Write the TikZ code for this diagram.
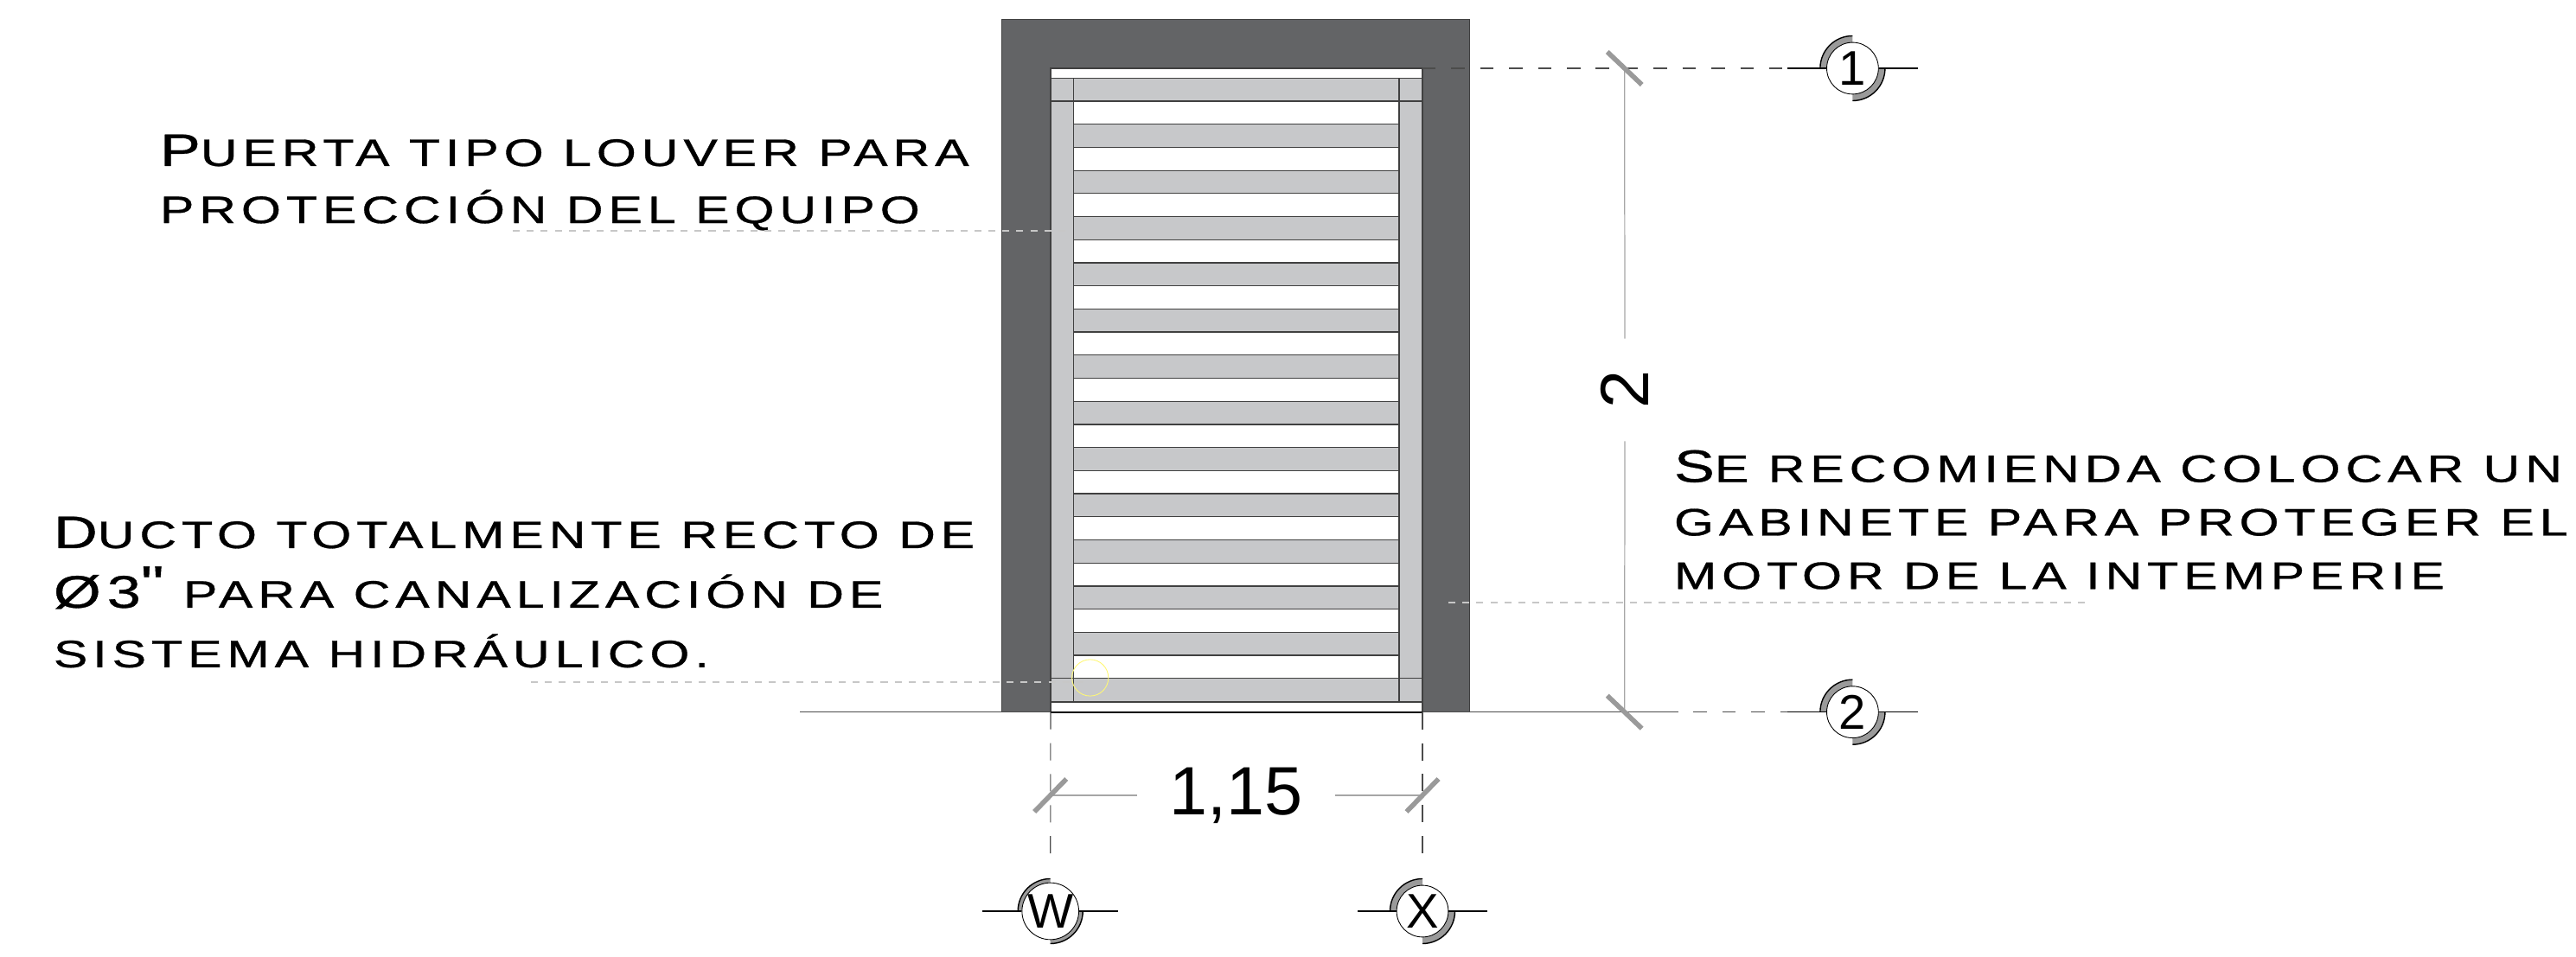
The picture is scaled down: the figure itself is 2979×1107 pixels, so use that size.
\documentclass[tikz,border=0pt]{standalone}
\usepackage{fontspec}
\setmainfont{Liberation Sans}
\newfontfamily\letrero[LetterSpace=10,FakeBold=0.6]{Liberation Sans}
\usetikzlibrary{positioning}
\definecolor{muro}{HTML}{636466}
\definecolor{lama}{HTML}{C7C8CA}
\definecolor{marca}{HTML}{9A9A9A}
\newcommand{\may}[1]{{\fontsize{15pt}{15pt}\selectfont #1}}
\tikzset{
  borde/.style={draw=black!75,line width=0.35pt},
  ejeh/.style={draw=black!70,line width=0.3pt,dash pattern=on 4.4pt off 5.1pt},
  ejev/.style={draw=black!70,line width=0.3pt,dash pattern=on 5.7pt off 4.5pt},
  cota/.style={draw=black!35,line width=0.35pt},
  guia/.style={draw=black!22,line width=0.5pt,dash pattern=on 2.3pt off 2.3pt},
  tic/.style={draw=marca,line width=1.6pt},
  rama/.style={draw=black,line width=0.4pt},
  burbuja/.style={circle,draw=black,line width=0.25pt,fill=white,minimum size=17pt,inner sep=0pt,font=\fontsize{16pt}{16pt}\selectfont},
  medida/.style={inner sep=10.4pt,font=\fontsize{22.5pt}{22.5pt}\selectfont},
  rotulo/.style={align=left,anchor=north west,inner sep=0pt,xscale=#1,transform shape}
}
\begin{document}
\begin{tikzpicture}[x=0.01cm,y=-0.01cm]
  \useasboundingbox (0,0) rectangle (2979,1107);
  %% muro y vano
  \fill[muro] (1158.5,22.7) rectangle (1699.6,823.7);
  \draw[borde] (1158.5,823.7) -- (1158.5,22.7) -- (1699.6,22.7) -- (1699.6,823.7);
  \draw[borde,fill=white] (1215,79) rectangle (1645,823.7);
  %% puerta louver
  \draw[borde,fill=lama] (1215,90.3) rectangle (1241.5,812);
  \draw[borde,fill=lama] (1618,90.3) rectangle (1645,812);
  \foreach \n in {0,...,12}
    \draw[borde,fill=lama] (1241.5,{90.3+\n*53.42}) rectangle (1618,{117+\n*53.42});
  \draw[borde,fill=lama] (1241.5,784.7) rectangle (1618,812);
  \draw[borde] (1215,90.3) rectangle (1645,117);
  \draw[borde] (1215,784.7) rectangle (1645,812);
  \draw[draw=yellow!55!white,line width=0.25pt] (1260.7,784) circle (6pt);
  %% piso
  \coordinate (p1) at (925,823.7);
  \coordinate (p2) at (1215,823.7);
  \coordinate (p3) at (1645,823.7);
  \coordinate (p4) at (1925,823.7);
  \draw[draw=black!70,line width=0.4pt] (p1) -- (p2);
  \draw[draw=black,line width=0.6pt] (p2) -- (p3);
  \draw[draw=black!70,line width=0.4pt] (p3) -- (p4);
  %% ejes
  \foreach \nom/\x/\y/\txt in {1/2142.4/79/1,2/2142.4/823.7/2,W/1214.7/1054/W,X/1645/1054/X} {
    \coordinate (c\nom) at (\x,\y);
    \fill[marca] (c\nom) ++(90:10.67pt) arc[start angle=90,end angle=180,radius=10.67pt] -- ++(0:3pt) arc[start angle=180,end angle=90,radius=7.67pt] -- cycle;
    \fill[marca] (c\nom) ++(270:10.67pt) arc[start angle=270,end angle=360,radius=10.67pt] -- ++(180:3pt) arc[start angle=360,end angle=270,radius=7.67pt] -- cycle;
    \draw[rama] (c\nom) ++(90:10.67pt) arc[start angle=90,end angle=180,radius=10.67pt];
    \draw[rama] (c\nom) ++(270:10.67pt) arc[start angle=270,end angle=360,radius=10.67pt];
    \node[burbuja] (\nom) at (c\nom) {\txt};
    \draw[rama] (\nom.west) -- ++(-45,0);
    \draw[rama] (\nom.east) -- ++(45,0);
  }
  \coordinate (t1) at (1878.7,79);
  \coordinate (t2) at (1878.7,823.7);
  \coordinate (t3) at (1214.7,920);
  \coordinate (t4) at (1645,920);
  \draw[ejeh] (1645,79) -- ([xshift=-12.8pt]1.west);
  \draw[ejeh] (p4) -- ([xshift=-12.8pt]2.west);
  \draw[ejev] (p2) -- ([yshift=8.5pt]W.north);
  \draw[ejev] (p3) -- ([yshift=8.5pt]X.north);
  %% cotas
  \node[medida,rotate=90] (alto) at (1879,451) {2};
  \node[medida] (ancho) at (1429.5,920) {1,15};
  \draw[cota] (t1) -- (alto);
  \draw[cota] (alto) -- (t2);
  \draw[cota] (t3) -- (ancho);
  \draw[cota] (ancho) -- (t4);
  \draw[tic] (t1) ++(-20,-19) -- ++(40,38);
  \draw[tic] (t2) ++(-20,-19) -- ++(40,38);
  \draw[tic] (t3) ++(-18.5,19) -- ++(37,-38);
  \draw[tic] (t4) ++(-18.5,19) -- ++(37,-38);
  %% rotulos
  \node[rotulo=1.335,font=\letrero\fontsize{12.6pt}{18.8pt}\selectfont] (puerta) at (184,155) {\may{P}UERTA TIPO LOUVER PARA\\PROTECCIÓN DEL EQUIPO};
  \node[rotulo=1.335,font=\letrero\fontsize{12.6pt}{19.6pt}\selectfont] (ducto) at (61,597) {\may{D}UCTO TOTALMENTE RECTO DE\\\may{Ø3}\raisebox{2.5pt}{\fontsize{16pt}{16pt}\selectfont"} PARA CANALIZACIÓN DE\\SISTEMA HIDRÁULICO.};
  \node[rotulo=1.335,font=\letrero\fontsize{12.6pt}{17.6pt}\selectfont] (gabinete) at (1935,520) {\may{S}E RECOMIENDA COLOCAR UN\\GABINETE PARA PROTEGER EL\\MOTOR DE LA INTEMPERIE};
  %% guias
  \coordinate (g1) at (593,267.3);
  \coordinate (g2) at (1236,267.3);
  \coordinate (g3) at (614,789);
  \coordinate (g4) at (1256,789);
  \coordinate (g5) at (1675,696.7);
  \coordinate (g6) at (2413,696.7);
  \draw[guia] (g1) -- (g2);
  \draw[guia] (g3) -- (g4);
  \draw[guia] (g5) -- (g6);
\end{tikzpicture}
\end{document}
